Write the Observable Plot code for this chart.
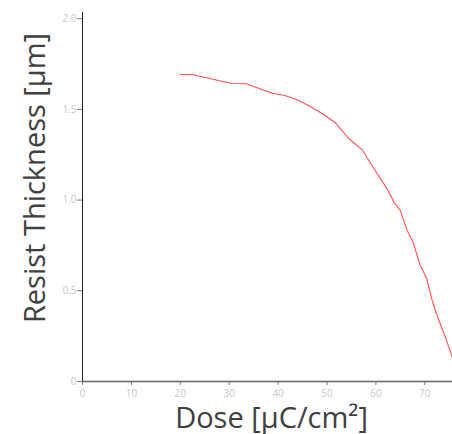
<!DOCTYPE html>
<html>
<head>
<meta charset="utf-8">
<script src="https://cdn.jsdelivr.net/npm/d3@7"></script>
<script src="https://cdn.jsdelivr.net/npm/@observablehq/plot@0.6"></script>
<style>
  html, body { margin: 0; padding: 0; background: #fff; }
  #chart svg { display: block; }
</style>
</head>
<body>
<div id="chart"></div>
<script>
// Dose [µC/cm²]
const dose = [20.0, 22.4, 26.2, 30.6, 33.5, 38.8, 41.2, 43.9, 46.6, 49.4, 51.7, 54.5, 57.2, 59.6, 62.3, 63.7, 65.0, 66.4, 67.6, 69.0, 70.4, 71.5, 72.5, 74.2, 75.6];
// Resist thickness [µm]
const thickness = [1.692, 1.692, 1.669, 1.643, 1.641, 1.589, 1.578, 1.553, 1.516, 1.470, 1.426, 1.338, 1.277, 1.173, 1.062, 0.988, 0.942, 0.832, 0.768, 0.645, 0.566, 0.447, 0.364, 0.245, 0.134];
const xTicks = [0, 10, 20, 30, 40, 50, 60, 70];
const yTicks = [0, 0.5, 1, 1.5, 2];
const xLabel = "Dose [µC/cm²]";
const yLabel = "Resist Thickness [µm]";

const data = dose.map((d, i) => ({dose: d, thickness: thickness[i]}));

const chart = Plot.plot({
  width: 452,
  height: 434,
  marginLeft: 82,
  marginRight: 0,
  marginTop: 12,
  marginBottom: 53,
  style: {fontFamily: "'Open Sans', sans-serif", background: "#fff"},
  x: {domain: [0, 75.66]},
  y: {domain: [0, 2.034]},
  marks: [
    Plot.axisX({ticks: xTicks, tickSize: 4, tickPadding: 4, stroke: "#777", fill: "#c8c8c8", fontSize: 10, label: null, tickFormat: d => String(d)}),
    Plot.axisY({ticks: yTicks, tickSize: 5, tickPadding: 1, stroke: "#777", fill: "#c8c8c8", fontSize: 10, label: null, tickFormat: d => d === 0 ? "0" : d.toFixed(1)}),
    Plot.ruleY([0], {stroke: "#666", strokeWidth: 1.3}),
    Plot.ruleX([0], {stroke: "#222", strokeWidth: 1}),
    Plot.line(data, {x: "dose", y: "thickness", stroke: "#ff4f4f", strokeWidth: 1.1, clip: true}),
    Plot.text([xLabel], {frameAnchor: "bottom", textAnchor: "middle", lineAnchor: "bottom", dy: 46, dx: 4, fontSize: 29, fill: "#404040", text: d => d}),
    Plot.text([yLabel], {frameAnchor: "left", textAnchor: "middle", lineAnchor: "bottom", rotate: -90, dx: -38, dy: -19, fontSize: 29, fill: "#404040", text: d => d})
  ]
});
document.getElementById("chart").appendChild(chart);
</script>
</body>
</html>
